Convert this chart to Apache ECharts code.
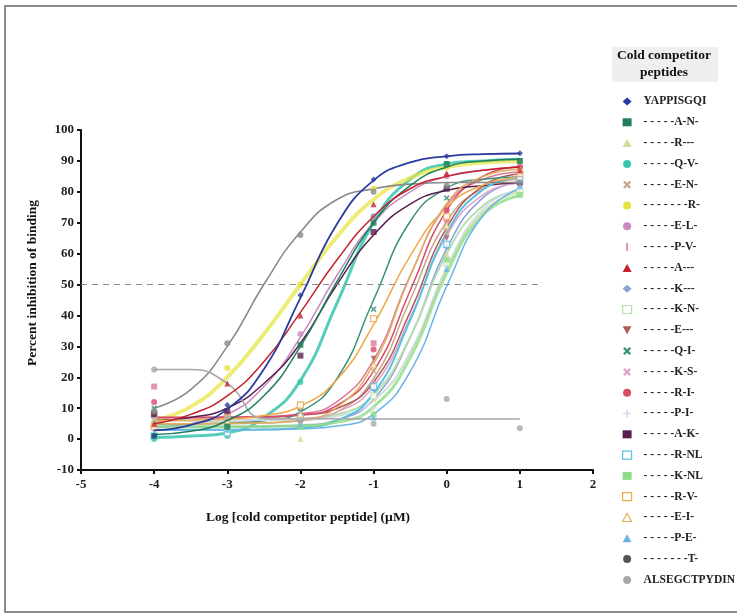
<!DOCTYPE html>
<html><head><meta charset="utf-8">
<script src="https://cdn.jsdelivr.net/npm/echarts@6/dist/echarts.min.js"></script>
<style>html,body{margin:0;padding:0;background:#fff}#c{width:737px;height:615px}</style>
</head><body><div id="c"></div>
<script>
// ---------- data ----------
const DOSE_X = [-4, -3, -2, -1, 0, 1];                       // log[µM] of measured points
const FIT_X  = [-4, -3.5, -3, -2.5, -2, -1.5, -1, -0.5, 0, 0.5, 1]; // x where fitted curves were read
const X_TICKS = [-5, -4, -3, -2, -1, 0, 1, 2];
const Y_TICKS = [-10, 0, 10, 20, 30, 40, 50, 60, 70, 80, 90, 100];
const REF_Y = 50;
const REF_X_END = 1.3;

const PEPTIDES = ["YAPPISGQI","-----A-N-","-----R---","-----Q-V-","-----E-N-","-------R-","-----E-L-","-----P-V-",
  "-----A---","-----K---","-----K-N-","-----E---","-----Q-I-","-----K-S-","-----R-I-","-----P-I-","-----A-K-",
  "-----R-NL","-----K-NL","-----R-V-","-----E-I-","-----P-E-","-------T-","ALSEGCTPYDIN"];

const obsYAPPISGQI = [1, 11, 46.5, 84, 91.5, 92.5];
const fitYAPPISGQI = [2.8, 4.6, 9.7, 22.6, 45.7, 69.6, 83.7, 89.5, 91.5, 92.2, 92.4];
const obsAN = [1, 4, 30.5, 70, 89, 90];
const fitAN = [1.5, 2.5, 6, 14, 30, 51, 70, 82, 88, 90, 90.5];
const obsR3 = [9, 5, 0, 13, 60, 80];
const fitR3 = [6, 6, 6, 6.1, 6.3, 7.5, 12.4, 28, 55, 73.7, 80];
const obsQV = [0, 1, 18.5, 72, 89, 90];
const fitQV = [0.5, 1, 2, 7, 19, 44, 70, 84, 89, 90, 90.5];
const obsEN = [4, 5, 9, 22, 67, 84];
const fitEN = [5, 5, 5, 5.2, 5.9, 8.8, 19.6, 45, 70.4, 81.2, 84.1];
const obsR7 = [7, 23, 50, 81, 88, 90];
const fitR7 = [6, 10.5, 20, 34, 50, 65.5, 77.5, 84.5, 88, 89.5, 90];
const obsEL = [4, 8, 34, 72, 85, 88];
const fitEL = [4, 5, 8, 17, 33, 53, 70, 80, 85, 87, 88];
const obsPV = [17, 8, 7, 31, 71, 85];
const fitPV = [7, 7, 7.1, 7.3, 8.2, 12.1, 25.6, 52.9, 75.6, 84.1, 86.4];
const obsA = [5, 18, 40, 76, 86, 87];
const fitA = [5, 8, 14, 25, 41, 58, 72, 81, 85, 87, 88];
const obsK = [3, 4, 6, 16, 62, 83];
const fitK = [4, 4, 4, 4.1, 4.5, 6.2, 12.9, 32.8, 61.6, 78.2, 83.4];
const obsKN = [8, 2, 11, 14, 57, 80];
const fitKN = [6, 6, 6, 6.1, 6.5, 8, 14.3, 33, 60, 75.6, 80.5];
const obsE = [7, 6, 7, 26, 65, 86];
const fitE = [7, 7, 7, 7.1, 7.7, 9.9, 18.4, 41.1, 68.4, 82, 85.8];
const obsQI = [10, 5, 9, 42, 78, 83];
const fitQI = [5, 5, 5.2, 5.9, 8.8, 19.6, 45, 70.4, 81.2, 84.1, 84.8];
const obsKS = [6, 5, 8, 18, 63, 82];
const fitKS = [6, 6, 6, 6.1, 6.6, 8.8, 17.1, 39.2, 65.9, 79.1, 82.8];
const obsRI = [12, 7, 6, 29, 74, 88];
const fitRI = [7, 7, 7.05, 7.2, 7.9, 10.9, 22, 48, 74, 85.1, 88.1];
const obsPI = [7, 6, 5, 10, 56, 81];
const fitPI = [6, 6, 6, 6.1, 6.3, 7.5, 12.4, 28.3, 55.7, 74.6, 80.9];
const obsAK = [8, 9, 27, 67, 81, 83];
const fitAK = [6, 7, 10, 18, 31, 50, 66, 76, 80.5, 82, 83];
const obsRNL = [1, 2, 7, 17, 63, 84];
const fitRNL = [3, 3, 3, 3.1, 3.7, 6, 14.8, 38.4, 66.7, 80.8, 84.8];
const obsKNL = [5, 4, 4, 8, 58, 79];
const fitKNL = [4, 4, 4, 4.1, 4.3, 5.5, 10.4, 26.3, 53.7, 72.6, 78.9];
const obsRV = [4, 7, 11, 39, 72, 86];
const fitRV = [6, 6.2, 6.5, 7.6, 10.7, 19.3, 37, 59.3, 75, 82.2, 84.7];
const obsEI = [5, 6, 8, 24, 69, 87];
const fitEI = [5, 5, 5.1, 5.3, 6.2, 10.3, 24.3, 52.6, 76.2, 85, 87.3];
const obsPE = [2, 3, 5, 7, 55, 82];
const fitPE = [3, 3, 3, 3.1, 3.3, 4.2, 8.1, 21.8, 49.5, 72.5, 81.1];
const obsT = [9, 31, 66, 80, 82, 83];
const fitT = [10, 16, 30, 50, 67, 77.5, 81, 82.5, 83, 83, 83];
const obsALS = [22.5, 7, 6, 5, 13, 3.5];
const fitALS = [22.5, 22.5, 18, 6.7, 6.6, 6.6, 6.5, 6.5, 6.5, 6.5, 6.5];

const OBS = [obsYAPPISGQI, obsAN, obsR3, obsQV, obsEN, obsR7, obsEL, obsPV, obsA, obsK, obsKN, obsE, obsQI, obsKS,
  obsRI, obsPI, obsAK, obsRNL, obsKNL, obsRV, obsEI, obsPE, obsT, obsALS];
const FIT = [fitYAPPISGQI, fitAN, fitR3, fitQV, fitEN, fitR7, fitEL, fitPV, fitA, fitK, fitKN, fitE, fitQI, fitKS,
  fitRI, fitPI, fitAK, fitRNL, fitKNL, fitRV, fitEI, fitPE, fitT, fitALS];

// ---------- styles ----------
const X_SYM = 'path://M2,0L5,3L8,0L10,2L7,5L10,8L8,10L5,7L2,10L0,8L3,5L0,2Z';
const PLUS_SYM = 'path://M4,0H6V4H10V6H6V10H4V6H0V4H4Z';
const INV_TRI = 'path://M0,0H10L5,9Z';
const BAR_SYM = 'path://M4,0H6V10H4Z';
const STYLE = [
  {c:'#2b3a9e', s:'diamond', z:8, w:1.8},
  {c:'#1e7f5c', s:'rect', z:7, w:1.5},
  {c:'#d3da98', s:'triangle', w:1.5},
  {c:'#38c4ae', s:'circle', w:3, o:0.85},
  {c:'#c7a689', s:X_SYM, w:1.5},
  {c:'#e6e43c', s:'circle', w:4, o:0.7},
  {c:'#c98ac4', s:'circle', w:1.5},
  {c:'#e07a9a', s:BAR_SYM, w:1.5},
  {c:'#c4202c', s:'triangle', z:7, w:1.5},
  {c:'#8f9fd8', s:'diamond', w:1.5},
  {c:'#b5deac', s:'rect', open:true, w:2},
  {c:'#b05a5a', s:INV_TRI, w:1.5},
  {c:'#3a917c', s:X_SYM, w:1.5},
  {c:'#d9a6c8', s:X_SYM, w:1.5},
  {c:'#d84a6a', s:'circle', w:1.5},
  {c:'#cfdbe6', s:PLUS_SYM, w:1.5},
  {c:'#5a1e4e', s:'rect', w:1.5},
  {c:'#5bbfe0', s:'rect', open:true, w:2},
  {c:'#8edc8a', s:'rect', w:3, o:0.8},
  {c:'#f0a848', s:'rect', open:true, w:1.5},
  {c:'#e0b060', s:'triangle', open:true, w:1.5},
  {c:'#6ab4e4', s:'triangle', w:1.5},
  {c:'#8a8a8a', s:'circle', w:1.6, legendColor:'#555'},
  {c:'#a8a8a8', s:'circle', w:1.6}
];

const FONT = 'Liberation Serif';
const series = [];
const legendData = [];
PEPTIDES.forEach((name, i) => {
  const st = STYLE[i];
  series.push({
    name, type:'line', data: FIT_X.map((x, k) => [x, FIT[i][k]]),
    smooth: 0.5, showSymbol:false, symbol:'none', silent:true,
    lineStyle:{color: st.c, width: st.w, opacity: st.o || 1}, itemStyle:{color: st.c},
    z: st.z || 2
  });
  series.push({
    name, type:'scatter', data: DOSE_X.map((x, k) => [x, OBS[i][k]]),
    symbol: st.s, symbolSize: 6,
    itemStyle: st.open ? {color:'#fff', borderColor: st.c, borderWidth:1.2} : {color: st.c},
    z: (st.z || 2) + 1
  });
  legendData.push({name, icon: st.s,
    itemStyle: st.open ? {color:'#fff', borderColor: st.c, borderWidth:1.2} : {color: st.legendColor || st.c, borderWidth:0}});
});
// reference line at 50 %
series.push({
  type:'line', data:[], silent:true,
  markLine:{symbol:'none', silent:true, label:{show:false},
    lineStyle:{type:[6,5], color:'#8a8a8a', width:1},
    data:[[{coord:[X_TICKS[0], REF_Y]}, {coord:[REF_X_END, REF_Y]}]]}
});

const chart = echarts.init(document.getElementById('c'), null, {renderer:'canvas'});
chart.setOption({
  animation:false,
  backgroundColor:'#fff',
  grid:{left:81, right:144, top:130, bottom:145},
  xAxis:{type:'value', min:X_TICKS[0], max:X_TICKS[X_TICKS.length-1], interval:1,
    axisLine:{onZero:false, lineStyle:{color:'#111', width:2}},
    axisTick:{show:true, length:4, lineStyle:{color:'#111', width:2}},
    axisLabel:{fontFamily:FONT, fontWeight:'bold', fontSize:13, color:'#222', margin:8},
    splitLine:{show:false}},
  yAxis:{type:'value', min:Y_TICKS[0], max:Y_TICKS[Y_TICKS.length-1], interval:10,
    axisLine:{show:true, onZero:false, lineStyle:{color:'#111', width:2}},
    axisTick:{show:true, length:4, lineStyle:{color:'#111', width:2}},
    axisLabel:{fontFamily:FONT, fontWeight:'bold', fontSize:13, color:'#222', margin:7},
    splitLine:{show:false}},
  legend:{orient:'vertical', left:617, top:90, itemWidth:9, itemHeight:8, itemGap:7.8,
    data: legendData, selectedMode:false,
    formatter: n => n.replace(/^-+/, m => m.split('').join(' ')),
    textStyle:{fontFamily:FONT, fontWeight:'bold', fontSize:11.5, color:'#222', lineHeight:13, padding:[0,0,0,7]}},
  graphic:[
    {type:'rect', shape:{x:5, y:6, width:740, height:606}, style:{fill:'none', stroke:'#8c8c8c', lineWidth:2}, silent:true},
    {type:'rect', shape:{x:612, y:47, width:106, height:35}, style:{fill:'#efefef'}, silent:true},
    {type:'text', x:664, y:56, style:{text:'Cold competitor', font:'bold 13.5px "Liberation Serif"', fill:'#111', align:'center', verticalAlign:'middle'}},
    {type:'text', x:664, y:73, style:{text:'peptides', font:'bold 13.5px "Liberation Serif"', fill:'#111', align:'center', verticalAlign:'middle'}},
    {type:'text', x:308, y:518, style:{text:'Log [cold competitor peptide] (µM)', font:'bold 13.5px "Liberation Serif"', fill:'#111', align:'center', verticalAlign:'middle'}},
    {type:'text', x:33, y:283, rotation:Math.PI/2, style:{text:'Percent inhibition of binding', font:'bold 13.5px "Liberation Serif"', fill:'#111', align:'center', verticalAlign:'middle'}}
  ],
  series
});
</script></body></html>
